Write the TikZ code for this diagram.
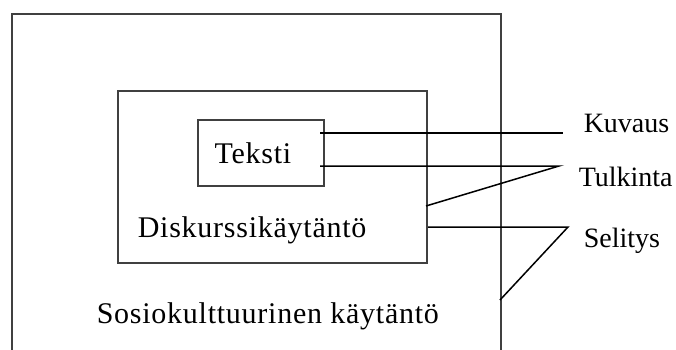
\documentclass[tikz,border=0pt]{standalone}
\usepackage{fontspec}
\setmainfont{Liberation Serif}
\begin{document}
\begin{tikzpicture}[x=1pt,y=-1pt,line width=1.5pt,
  frame/.style={draw=black!75,line width=2pt,anchor=north west,inner sep=0pt},
  lbl/.style={font=\fontsize{30}{36}\selectfont\addfontfeatures{LetterSpace=2.5},inner sep=0pt},
  side/.style={font=\fontsize{28}{34}\selectfont,inner sep=0pt,anchor=base west}]
\useasboundingbox (0,0) rectangle (676,349);
\begin{scope}
\clip (0,0) rectangle (676,349);

% boxes
\node[frame,minimum width=489,minimum height=360] (sosio) at (11,13) {};
\node[frame,minimum width=309,minimum height=172] (diskurssi) at (117,90) {};
\node[frame,minimum width=126,minimum height=66] (teksti) at (197,119) {};

% texts
\node[lbl] at (253,153) {Teksti};
\node[lbl,anchor=west] at (137,230) {Diskurssikäytäntö};
\node[lbl,anchor=west] at (96,316) {Sosiokulttuurinen käytäntö};

% labels
\node[side] (kuvaus) at (583,132) {Kuvaus};
\node[side] (tulkinta) at (578,186) {Tulkinta};
\node[side] (selitys) at (583,247) {Selitys};

% connector points
\coordinate (k) at (563,133);
\coordinate (t) at (559,166);
\coordinate (t2) at (426,206);
\coordinate (s) at (568,227);
\coordinate (s2) at (500,300);

% lines
\draw ([xshift=-5]teksti.east |- k) -- (k);
\draw ([xshift=-5]teksti.east |- t) -- (t) -- (t2);
\draw (diskurssi.east |- s) -- (s) -- (s2);
\end{scope}
\end{tikzpicture}
\end{document}
